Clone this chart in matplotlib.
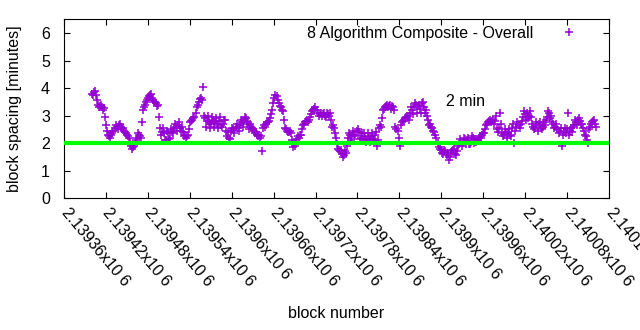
import matplotlib as mpl
import matplotlib.pyplot as plt
import numpy as np

mpl.use("Agg")

plt.rcParams["font.family"] = ["Liberation Sans", "DejaVu Sans"]

# block range covered by the series (consecutive blocks, sampled)
first_block = 2139400
last_block = 2140122

# block spacing in minutes left to right
spacing = [
    3.80, 3.85, 3.75, 3.40, 3.35, 3.30, 3.28, 2.65, 2.30, 2.20, 2.35,
    2.55, 2.60, 2.65, 2.60, 2.55, 2.40, 2.30, 2.20, 1.90, 1.85, 1.95,
    2.20, 2.30, 2.20, 3.20, 3.40, 3.55, 3.70, 3.80, 3.55, 3.45, 3.40,
    2.55, 2.40, 2.35, 2.10, 2.35, 2.20, 2.40, 2.55, 2.60, 2.65, 2.55,
    2.60, 2.25, 2.20, 2.30, 2.75, 2.85, 2.95, 3.30, 3.50, 3.65, 4.05,
    2.90, 2.80, 2.75, 2.70, 2.85, 2.75, 2.70, 2.80, 2.65, 2.70, 2.85,
    2.25, 2.20, 2.45, 2.50, 2.60, 2.55, 2.65, 2.75, 2.85, 2.90, 2.75,
    2.70, 2.55, 2.45, 2.40, 2.25, 2.20, 1.70, 2.65, 2.70, 2.75, 2.90,
    3.20, 3.65, 3.70, 3.45, 3.30, 3.15, 2.55, 2.45, 2.40, 2.35, 1.85,
    1.90, 2.15, 2.20, 2.30, 2.65, 2.75, 2.80, 2.85, 3.05, 3.20, 3.30,
    3.10, 3.05, 3.00, 3.10, 2.95, 3.05, 3.10, 2.60, 2.55, 2.20, 1.80,
    1.70, 1.60, 1.55, 1.65, 2.20, 2.30, 2.25, 2.30, 2.45, 2.40, 2.20,
    2.15, 2.25, 2.10, 2.20, 2.25, 2.15, 2.30, 1.90, 2.55, 2.60, 3.20,
    3.30, 3.40, 3.35, 3.25, 3.30, 2.60, 2.45, 1.90, 2.75, 2.85, 2.95,
    3.00, 3.10, 3.20, 3.30, 3.40, 3.35, 3.25, 3.45, 3.30, 3.20, 2.85,
    2.70, 2.55, 2.40, 2.20, 1.85, 1.75, 1.60, 1.70, 1.55, 1.40, 1.65,
    1.75, 1.60, 1.70, 1.95, 2.05, 2.00, 2.15, 2.10, 1.95, 2.05, 2.20,
    2.15, 2.10, 2.25, 2.30, 2.35, 2.65, 2.75, 2.85, 2.80, 2.70, 3.00,
    2.40, 3.10, 2.35, 2.30, 2.40, 2.35, 2.30, 2.55, 2.00, 2.60, 2.65,
    2.70, 2.95, 3.05, 3.10, 3.00, 2.95, 2.60, 2.55, 2.65, 2.70, 2.55,
    2.60, 2.65, 2.95, 3.10, 3.00, 2.70, 2.60, 2.50, 2.45, 1.90, 2.40,
    2.35, 3.10, 2.45, 2.40, 2.65, 2.75, 2.85, 2.80, 2.70, 2.45, 2.25,
    2.00, 2.60, 2.75, 2.85, 2.60,
]

# the blocks in between the ones above (other edge of the band)
spacing_between = [
    3.75, 3.90, 3.55, 3.30, 3.40, 3.20, 2.95, 2.45, 2.25, 2.30, 2.45,
    2.65, 2.50, 2.70, 2.50, 2.45, 2.35, 2.25, 2.05, 1.80, 1.90, 2.10,
    2.35, 2.25, 2.75, 3.30, 3.50, 3.65, 3.75, 3.65, 3.50, 3.35, 2.95,
    2.30, 2.55, 2.10, 2.45, 2.15, 2.50, 2.35, 2.70, 2.45, 2.75, 2.45,
    2.40, 2.30, 2.25, 2.50, 2.80, 2.90, 3.10, 3.40, 3.60, 3.55, 3.00,
    2.60, 3.00, 2.55, 2.95, 2.60, 2.90, 2.55, 2.95, 2.60, 2.85, 2.45,
    2.40, 2.15, 2.55, 2.35, 2.70, 2.45, 2.85, 2.60, 2.95, 2.70, 2.50,
    2.60, 2.50, 2.35, 2.30, 2.30, 2.25, 2.55, 2.60, 2.75, 2.80, 3.05,
    3.45, 3.75, 3.55, 3.35, 3.20, 2.85, 2.50, 2.40, 2.45, 2.10, 1.95,
    2.05, 2.25, 2.30, 2.50, 2.70, 2.80, 2.75, 2.95, 3.15, 3.25, 3.20,
    3.00, 3.10, 3.05, 3.00, 3.10, 3.00, 2.85, 2.65, 2.35, 1.95, 1.75,
    1.75, 1.50, 1.70, 1.90, 2.35, 2.10, 2.45, 2.25, 2.50, 2.15, 2.35,
    2.35, 2.05, 2.35, 2.05, 2.35, 2.10, 2.40, 2.10, 2.65, 2.90, 3.25,
    3.35, 3.30, 3.40, 3.35, 3.20, 2.50, 2.20, 2.65, 2.80, 2.90, 2.90,
    2.85, 3.30, 3.05, 3.45, 3.10, 3.40, 3.10, 3.50, 3.10, 3.00, 2.65,
    2.60, 2.45, 2.30, 2.00, 1.80, 1.65, 1.75, 1.60, 1.65, 1.50, 1.70,
    1.80, 1.55, 1.90, 2.15, 1.90, 2.20, 1.95, 2.20, 1.95, 2.25, 2.00,
    2.05, 2.20, 2.20, 2.35, 2.50, 2.70, 2.80, 2.75, 2.85, 2.80, 2.50,
    2.55, 2.70, 2.25, 2.50, 2.20, 2.50, 2.25, 2.70, 2.45, 2.75, 2.55,
    2.80, 3.15, 2.85, 2.90, 3.15, 2.70, 2.50, 2.75, 2.45, 2.75, 2.50,
    2.75, 2.85, 3.15, 2.90, 2.75, 2.55, 2.70, 2.35, 2.55, 2.30, 2.55,
    2.50, 2.30, 2.55, 2.60, 2.85, 2.65, 2.90, 2.70, 2.55, 2.30, 2.10,
    2.50, 2.70, 2.80, 2.70,
]

target_minutes = 2
tick_blocks = list(range(2139360, 2140141, 60))
tick_labels = [
    "2.13936", "2.13942", "2.13948", "2.13954", "2.1396", "2.13966",
    "2.13972", "2.13978", "2.13984", "2.1399", "2.13996", "2.14002",
    "2.14008", "2.14014",
]

blocks = np.linspace(first_block, last_block, len(spacing))
blocks_between = (blocks[:-1] + blocks[1:]) / 2

fig = plt.figure(figsize=(6.4, 3.3), dpi=100)
ax = fig.add_axes([0.1, 0.4, 0.8516, 0.5415])

marks = dict(linestyle="none", marker="+", markersize=5.5,
             markeredgewidth=1.1, color="#9400d3", zorder=2)
ax.plot(blocks, spacing, label="8 Algorithm Composite - Overall", **marks)
ax.plot(blocks_between, spacing_between, **marks)
ax.axhline(target_minutes, color="#00ff00", linewidth=3.0, zorder=3)
ax.text(2139907, 3.5, "2 min", fontsize=11.5, ha="left", va="center")

ax.set_xlim(tick_blocks[0], tick_blocks[-1])
ax.set_ylim(0, 6.5)
ax.set_yticks(range(0, 7))
ax.set_xticks(tick_blocks)
ax.set_xticklabels([t + "x10 6" for t in tick_labels],
                   rotation=-50, ha="left", va="center",
                   rotation_mode="anchor")
ax.tick_params(direction="in", length=4, width=0.8, top=True, right=True,
               labelsize=11.5)
ax.tick_params(axis="y", pad=10)
ax.tick_params(axis="x", pad=9)
for s in ax.spines.values():
    s.set_linewidth(0.8)

ax.set_ylabel("block spacing [minutes]", fontsize=11.5)
ax.yaxis.set_label_coords(-0.077, 0.5)
ax.set_xlabel("block number", fontsize=11.5)
ax.xaxis.set_label_coords(0.5, -0.605)
ax.xaxis.label.set_va("top")

ax.legend(loc="upper right", bbox_to_anchor=(0.956, 0.964),
          markerfirst=False, frameon=False, fontsize=11.5, borderpad=0,
          borderaxespad=0, handlelength=2.0, handletextpad=1.25)

fig.savefig("out.png", dpi=100)
